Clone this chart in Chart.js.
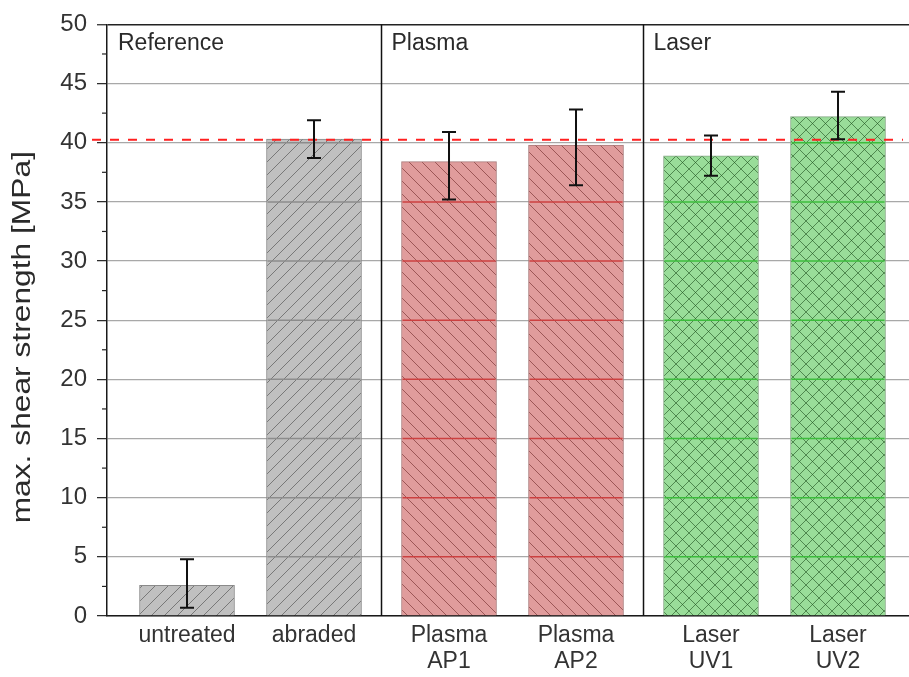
<!DOCTYPE html>
<html><head><meta charset="utf-8">
<script src="https://cdn.jsdelivr.net/npm/chart.js@4.4.1/dist/chart.umd.min.js"></script>
<style>html,body{margin:0;padding:0;background:#fff;overflow:hidden}#wrap{width:909px;height:677px}</style>
</head><body><div id="wrap"><canvas id="c" width="909" height="677"></canvas></div>
<script>
// ---- data ----
const categories = [['untreated'], ['abraded'], ['Plasma', 'AP1'], ['Plasma', 'AP2'], ['Laser', 'UV1'], ['Laser', 'UV2']];
const groupOfCategory = [0, 0, 1, 1, 2, 2];
const groupNames = ['Reference', 'Plasma', 'Laser'];
const strength = [2.6, 40.3, 38.4, 39.8, 38.9, 42.2];
const errLow = [0.7, 38.7, 35.2, 36.4, 37.2, 40.3];
const errHigh = [4.8, 41.9, 40.9, 42.8, 40.6, 44.3];
const referenceLevel = 40.25;
const yTickValues = [0, 5, 10, 15, 20, 25, 30, 35, 40, 45, 50];
const yMinorValues = [2.5, 7.5, 12.5, 17.5, 22.5, 27.5, 32.5, 37.5, 42.5, 47.5];
const yTitle = 'max. shear strength [MPa]';

// ---- layout / style ----
const GROUP_GAP = 0.063;
const xPos = categories.map((c, i) => i + groupOfCategory[i] * GROUP_GAP);
const groupStyle = [
  {bg: '#c0c0c0', line: 'rgba(60,60,60,0.55)', dirs: ['/'], border: '#8a8a8a', grid: '#8c8c8c'},
  {bg: '#e09c9c', line: 'rgba(100,30,30,0.55)', dirs: ['\\'], border: '#a87a7a', grid: '#cc4040'},
  {bg: '#99dd99', line: 'rgba(30,80,30,0.6)', dirs: ['/', '\\'], border: '#86a886', grid: '#3cbc3c'}
];

function hasFont(f) {
  const c = document.createElement('canvas').getContext('2d');
  c.font = '40px monospace';
  const a = c.measureText('untreated AP1 Laser').width;
  c.font = '40px "' + f + '", monospace';
  return c.measureText('untreated AP1 Laser').width !== a;
}
const narrow = hasFont('Liberation Sans Narrow');
const xFont = narrow ? {family: '"Liberation Sans Narrow"', size: 26, lineHeight: 1.0}
                     : {family: '"Liberation Sans", Arial', size: 23, lineHeight: 1.12};

const canvas = document.getElementById('c');
const ctx = canvas.getContext('2d');

function hatch(st) {
  const s = 13;
  const c = document.createElement('canvas');
  c.width = s; c.height = s;
  const g = c.getContext('2d');
  g.fillStyle = st.bg; g.fillRect(0, 0, s, s);
  g.strokeStyle = st.line; g.lineWidth = 1;
  st.dirs.forEach(d => {
    for (let k = -1; k <= 1; k++) {
      g.beginPath();
      if (d === '/') { g.moveTo(k * s, s); g.lineTo(k * s + s, 0); }
      else { g.moveTo(k * s, 0); g.lineTo(k * s + s, s); }
      g.stroke();
    }
  });
  return ctx.createPattern(c, 'repeat');
}
const patterns = groupStyle.map(hatch);

const decor = {
  id: 'decor',
  afterDatasetsDraw(chart) {
    const c = chart.ctx, ca = chart.chartArea;
    const ys = chart.scales.y, xs = chart.scales.x;
    const bars = chart.getDatasetMeta(0).data;
    c.save();
    // tinted gridlines inside bars
    bars.forEach((b, i) => {
      const st = groupStyle[groupOfCategory[i]];
      const p = b.getProps(['x', 'y', 'base', 'width'], true);
      yTickValues.forEach(v => {
        if (v <= 0 || v >= 50) return;
        const py = ys.getPixelForValue(v);
        if (py > p.y + 1 && py < p.base) {
          c.strokeStyle = st.grid; c.lineWidth = 1.5;
          c.beginPath(); c.moveTo(p.x - p.width / 2 + 1, py); c.lineTo(p.x + p.width / 2 - 1, py); c.stroke();
        }
      });
    });
    // group separators
    const sepX = [];
    for (let i = 1; i < xPos.length; i++) {
      if (groupOfCategory[i] !== groupOfCategory[i - 1]) {
        const px = xs.getPixelForValue((xPos[i] + xPos[i - 1]) / 2);
        sepX.push(px);
        c.strokeStyle = '#111'; c.lineWidth = 1.5;
        c.beginPath(); c.moveTo(px, ca.top); c.lineTo(px, ca.bottom); c.stroke();
      }
    }
    // group names
    c.fillStyle = '#2a2a2a';
    c.font = '23px "Liberation Sans", Arial';
    c.textAlign = 'left'; c.textBaseline = 'alphabetic';
    groupNames.forEach((n, g) => {
      const lx = g === 0 ? ca.left + 11 : sepX[g - 1] + 10;
      c.fillText(n, lx, ca.top + 26);
    });
    // reference dashed line
    const ry = ys.getPixelForValue(referenceLevel);
    c.strokeStyle = '#ff2020'; c.lineWidth = 2; c.setLineDash([9, 9]);
    c.beginPath(); c.moveTo(ca.left - 15, ry); c.lineTo(ca.right - 6, ry); c.stroke();
    c.setLineDash([]);
    // error bars
    c.strokeStyle = '#111'; c.lineWidth = 2;
    bars.forEach((b, i) => {
      const x = b.x;
      const y1 = ys.getPixelForValue(errLow[i]), y2 = ys.getPixelForValue(errHigh[i]);
      c.beginPath();
      c.moveTo(x, y1); c.lineTo(x, y2);
      c.moveTo(x - 7, y1); c.lineTo(x + 7, y1);
      c.moveTo(x - 7, y2); c.lineTo(x + 7, y2);
      c.stroke();
    });
    // minor ticks
    c.strokeStyle = '#222'; c.lineWidth = 1.2;
    yMinorValues.forEach(v => {
      const py = ys.getPixelForValue(v);
      c.beginPath(); c.moveTo(ca.left - 5, py); c.lineTo(ca.left, py); c.stroke();
    });
    // y title
    c.save();
    c.translate(23, (ca.top + ca.bottom) / 2 + 17);
    c.rotate(-Math.PI / 2);
    c.scale(1.27, 1);
    c.font = '25px "Liberation Sans", Arial';
    c.fillStyle = '#2a2a2a';
    c.textAlign = 'center'; c.textBaseline = 'middle';
    c.fillText(yTitle, 0, 0);
    c.restore();
    c.restore();
  }
};

new Chart(ctx, {
  type: 'bar',
  data: {
    datasets: [{
      data: strength.map((v, i) => ({x: xPos[i], y: v})),
      backgroundColor: groupOfCategory.map(g => patterns[g]),
      borderColor: groupOfCategory.map(g => groupStyle[g].border),
      borderWidth: 1,
      barThickness: 95
    }]
  },
  options: {
    responsive: false,
    animation: false,
    devicePixelRatio: 1,
    layout: {padding: {top: 22, left: 0, right: 0, bottom: 0}},
    plugins: {legend: {display: false}, tooltip: {enabled: false}},
    scales: {
      x: {
        type: 'linear', min: -0.63, max: 5.685, offset: false,
        grid: {display: false, drawTicks: false},
        border: {display: true, color: '#1a1a1a', width: 1.5},
        afterBuildTicks: s => { s.ticks = xPos.map(v => ({value: v})); },
        ticks: {autoSkip: false, maxRotation: 0, minRotation: 0, padding: 7, color: '#333', font: xFont,
                callback: (v, i) => categories[i]},
        afterFit: s => { s.height = 61; }
      },
      y: {
        min: 0, max: 50,
        afterBuildTicks: s => { s.ticks = yTickValues.map(v => ({value: v})); },
        ticks: {padding: 10, color: '#333', font: {family: '"Liberation Sans", Arial', size: 24}},
        grid: {
          color: c => c.tick && c.tick.value === 50 ? '#222' : '#a8a8a8',
          lineWidth: c => c.tick && c.tick.value === 50 ? 1.5 : 1.3,
          tickLength: 10, tickColor: '#222', tickWidth: 1.2, drawTicks: true
        },
        border: {display: true, color: '#1a1a1a', width: 1.5},
        afterFit: s => { s.width = 107; }
      }
    }
  },
  plugins: [decor]
});
</script>
</body></html>
